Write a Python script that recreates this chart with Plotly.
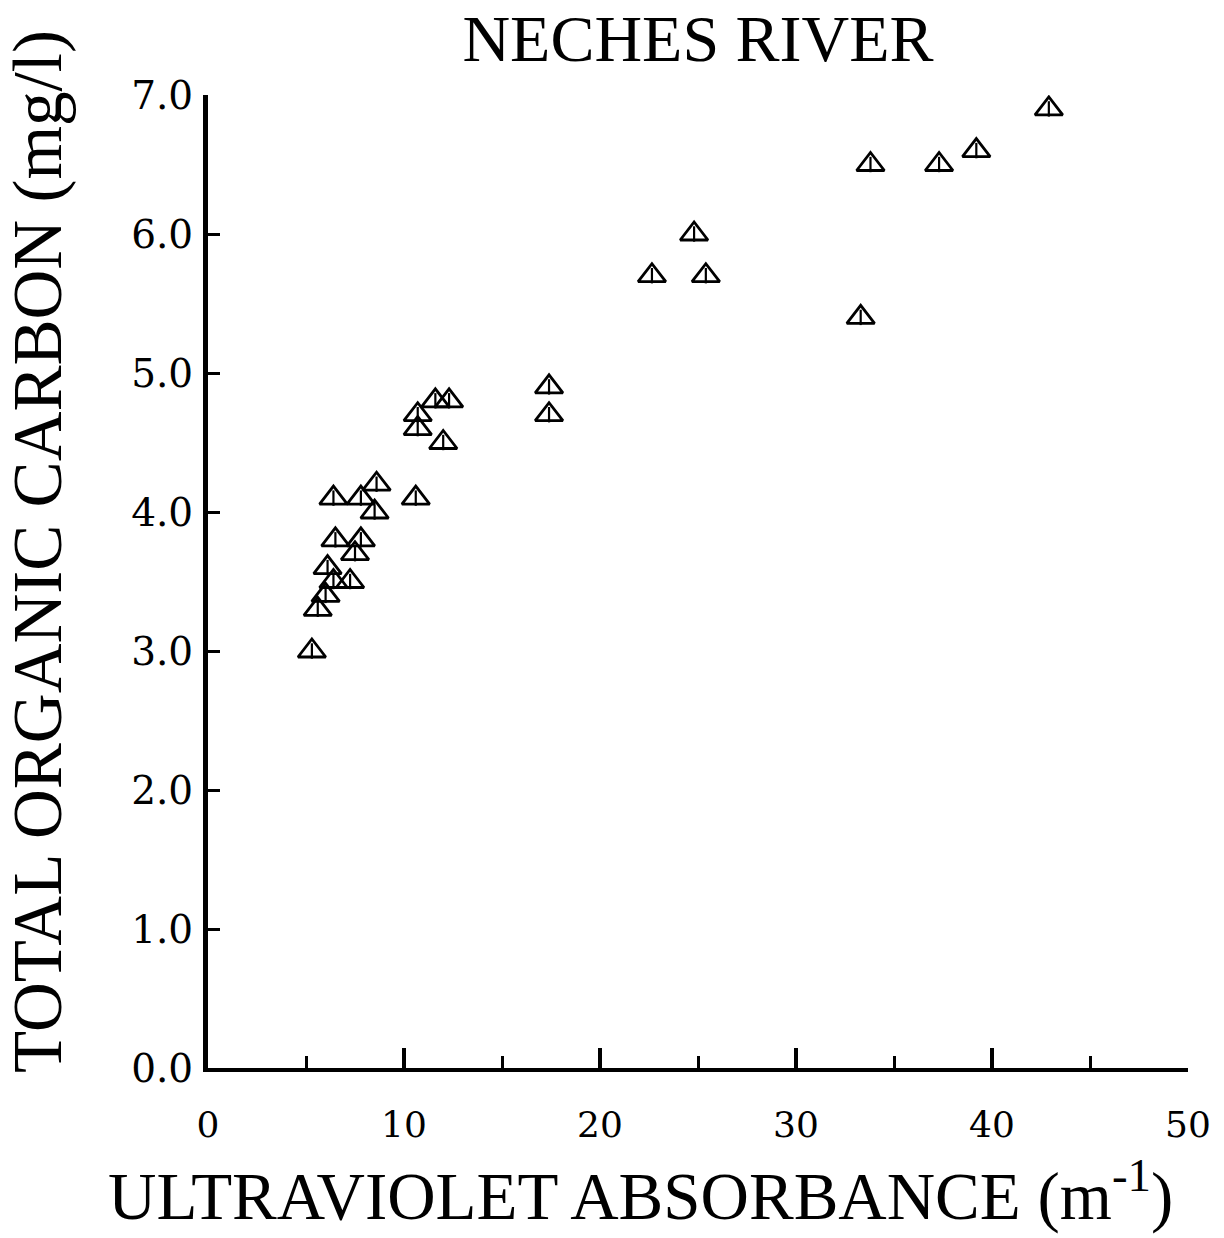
import plotly.graph_objects as go

# UV absorbance (1/m) and total organic carbon (mg/l), Neches River samples
uv_absorbance = [5.3, 5.6, 6.0, 6.1, 6.4, 6.4, 6.5, 7.25, 7.5, 7.8, 7.8, 8.5, 8.6,
                 10.6, 10.7, 10.7, 11.6, 12.0, 12.3, 17.4, 17.4,
                 22.65, 24.8, 25.4, 33.3, 33.8, 37.3, 39.2, 42.9]
toc = [3.0, 3.3, 3.4, 3.6, 3.5, 4.1, 3.8, 3.5, 3.7, 3.8, 4.1, 4.0, 4.2,
       4.1, 4.7, 4.6, 4.8, 4.5, 4.8, 4.9, 4.7,
       5.7, 6.0, 5.7, 5.4, 6.5, 6.5, 6.6, 6.9]

x_ticks = [0, 10, 20, 30, 40, 50]
x_tick_labels = ["0", "10", "20", "30", "40", "50"]
y_ticks = [0, 1, 2, 3, 4, 5, 6, 7]
y_tick_labels = ["0.0", "1.0", "2.0", "3.0", "4.0", "5.0", "6.0", "7.0"]

SERIF = "Liberation Serif"
TICK_SERIF = "DejaVu Serif"

fig = go.Figure()
# open triangles
fig.add_trace(go.Scatter(
    x=uv_absorbance, y=toc, mode="markers",
    marker=dict(symbol="triangle-up-open", size=24, color="black",
                line=dict(width=2.8, color="black")),
    hoverinfo="skip", showlegend=False,
))
# small vertical stroke inside each triangle
fig.add_trace(go.Scatter(
    x=uv_absorbance, y=toc, mode="markers",
    marker=dict(symbol="line-ns", size=11, color="black",
                line=dict(width=2.2, color="black")),
    hoverinfo="skip", showlegend=False,
))

fig.update_layout(
    width=1224, height=1238,
    margin=dict(l=208, r=36, t=95, b=170),
    paper_bgcolor="white", plot_bgcolor="white",
    font=dict(family=SERIF, color="black"),
    title=dict(text="NECHES RIVER", x=698 / 1224, xanchor="center",
               y=1 - 38 / 1238, yanchor="middle",
               font=dict(family=SERIF, size=66, color="black")),
    annotations=[
        dict(text="ULTRAVIOLET ABSORBANCE (m<sup>-1</sup>)",
             xref="paper", yref="paper",
             x=(640 - 208) / 980, y=-(1236 - 1068) / 973,
             xanchor="center", yanchor="bottom", showarrow=False,
             font=dict(family=SERIF, size=67, color="black")),
        dict(text="TOTAL ORGANIC CARBON (mg/l)",
             xref="paper", yref="paper",
             x=-(208 - 38) / 980, y=(1068 - 552) / 973,
             xanchor="center", yanchor="middle", showarrow=False, textangle=-90,
             font=dict(family=SERIF, size=69, color="black")),
    ],
)

fig.update_xaxes(
    range=[0, 50], showgrid=False, zeroline=False,
    showline=True, linecolor="black", linewidth=4,
    tickmode="array", tickvals=x_ticks, ticktext=x_tick_labels,
    ticks="inside", ticklen=20, tickwidth=4, tickcolor="black",
    minor=dict(tickmode="array", tickvals=[5, 15, 25, 35, 45],
               ticks="inside", ticklen=12, tickwidth=3, tickcolor="black"),
    tickfont=dict(family=TICK_SERIF, size=36, color="black"),
    ticklabelstandoff=22,
)
fig.update_yaxes(
    range=[0, 7], showgrid=False, zeroline=False,
    showline=True, linecolor="black", linewidth=5,
    tickmode="array", tickvals=y_ticks, ticktext=y_tick_labels,
    ticks="inside", ticklen=12, tickwidth=3, tickcolor="black",
    tickfont=dict(family=TICK_SERIF, size=39, color="black"),
    ticklabelstandoff=2,
)

fig.write_html("out.html")
